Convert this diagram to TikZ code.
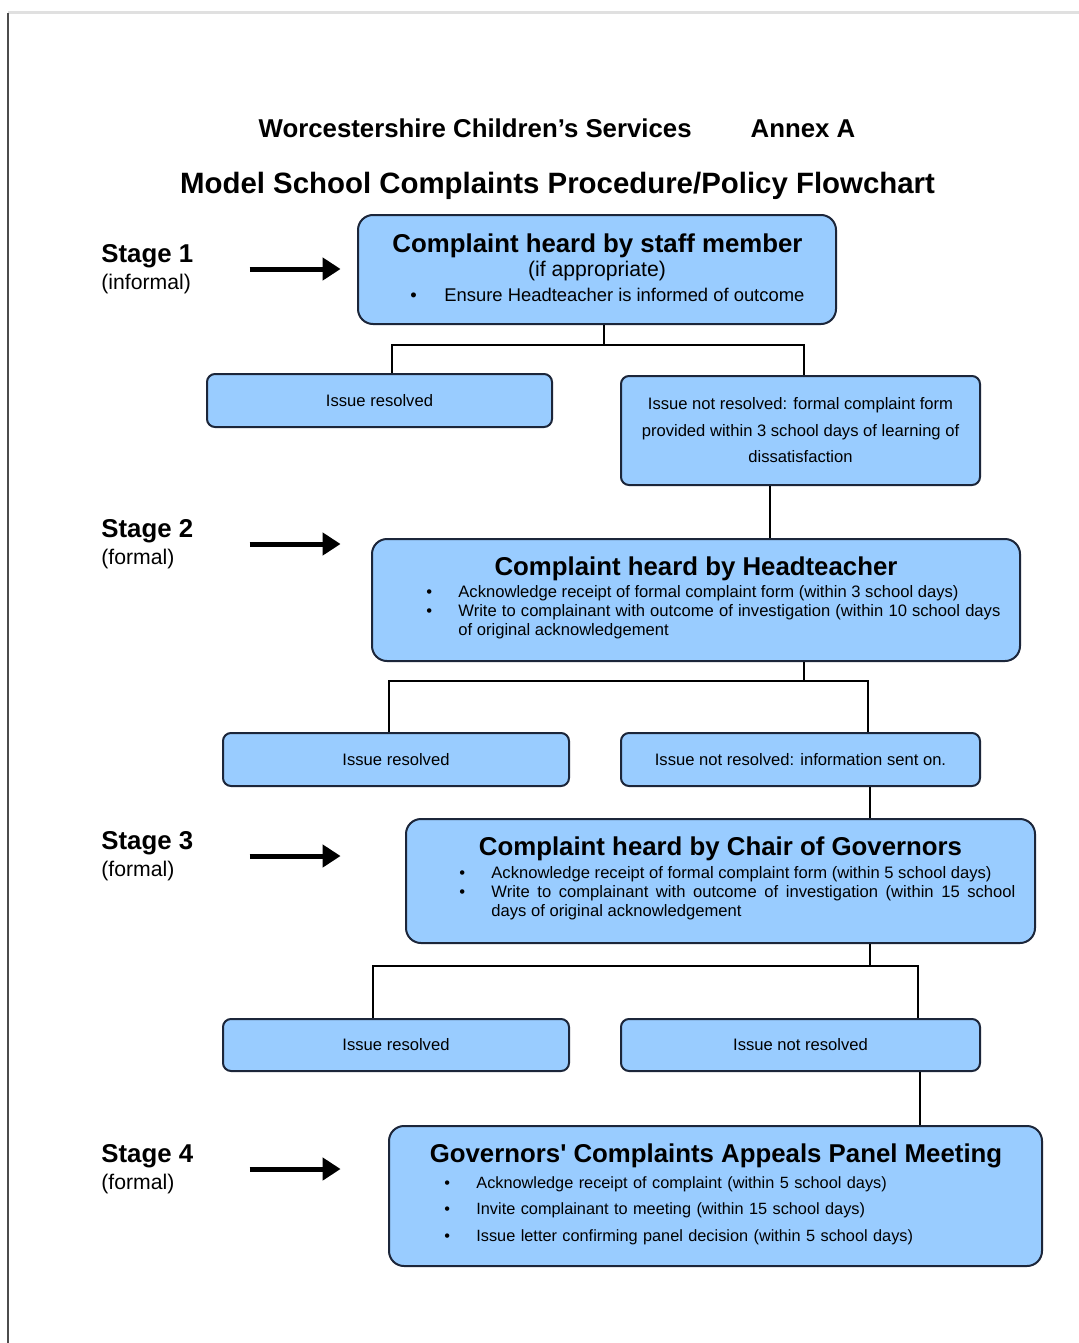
\documentclass[tikz,border=0pt]{standalone}
\usepackage{fontspec}
\setmainfont{Liberation Sans}
\usepackage{tikz}
\usetikzlibrary{arrows.meta}

\definecolor{boxblue}{RGB}{153,204,255}
\definecolor{boxline}{RGB}{28,38,58}

\newcommand\bitem[1]{\noindent\hangindent=16pt\hangafter=1\makebox[16pt][l]{\textbullet}#1\par}
\newcommand\tick{{\addfontfeatures{Ligatures=TeXOff}'}}

\tikzset{
    stagebox/.style={draw=boxline, line width=1pt, fill=boxblue, rounded corners=7.5pt, inner sep=0pt},
    issuebox/.style={stagebox, rounded corners=4pt, minimum width=173pt, minimum height=26.5pt,
        font=\fontsize{8.3pt}{13.25pt}\selectfont, align=center},
    boxtitle/.style={anchor=base, inner sep=0pt, font=\bfseries\fontsize{12.9pt}{15pt}\selectfont},
    bullets/.style={anchor=base west, inner sep=0pt, align=justify, font=\fontsize{8.3pt}{9.5pt}\selectfont},
    stagelabel/.style={anchor=west, inner sep=0pt, align=left, font=\fontsize{10.6pt}{13.5pt}\selectfont},
    link/.style={draw=black, line width=1pt},
    pointer/.style={line width=2.5pt, -{Triangle[length=9pt,width=11pt]}},
}

\begin{document}
\begin{tikzpicture}[x=0.5pt, y=-0.5pt]
    \useasboundingbox (0,0) rectangle (1079,1343);
    \fill[white] (0,0) rectangle (1079,1343);
    \draw[black!12, line width=1.5pt] (8,13) -- (1079,13);
    \draw[black!70, line width=1.2pt] (8,13) -- (8,1343);

    % heading
    \node[anchor=base, inner sep=0pt, font=\bfseries\fontsize{12.9pt}{15pt}\selectfont] (head) at (557,137)
        {Worcestershire Children’s Services\hspace{29.5pt}Annex A};
    \node[anchor=base, inner sep=0pt, font=\bfseries\fontsize{14.7pt}{17pt}\selectfont] (title) at (557.5,193)
        {Model School Complaints Procedure/Policy Flowchart};

    % boxes
    \node[stagebox, minimum width=239pt, minimum height=54.5pt] (s1) at (597,269.5) {};
    \node[issuebox, minimum width=172.5pt] (r1) at (379.5,400.5) {Issue resolved};
    \node[issuebox, minimum width=179.5pt, minimum height=54.5pt] (n1) at (800.5,430.5)
        {Issue not resolved: formal complaint form\\provided within 3 school days of learning of\\dissatisfaction};
    \node[stagebox, minimum width=324pt, minimum height=61pt] (s2) at (696,600) {};
    \node[issuebox] (r2) at (396,759.5) {Issue resolved};
    \node[issuebox, minimum width=179.5pt] (n2) at (800.5,759.5) {Issue not resolved: information sent on.};
    \node[stagebox, minimum width=314.5pt, minimum height=62pt] (s3) at (720.5,881) {};
    \node[issuebox, minimum height=26pt] (r3) at (396,1045) {Issue resolved};
    \node[issuebox, minimum width=179.5pt, minimum height=26pt] (n3) at (800.5,1045) {Issue not resolved};
    \node[stagebox, minimum width=326.5pt, minimum height=70pt] (s4) at (715.5,1196) {};

    % stage 1
    \node[boxtitle] (s1t) at (597.5,252) {Complaint heard by staff member};
    \node[anchor=base, inner sep=0pt, font=\fontsize{10.6pt}{12pt}\selectfont] (s1n) at (597,276) {(if appropriate)};
    \node[anchor=base west, inner sep=0pt, font=\fontsize{9.2pt}{11pt}\selectfont] (s1b) at (410,301)
        {\makebox[17pt][l]{\textbullet}Ensure Headteacher is informed of outcome};

    % stage 2
    \node[boxtitle] (s2t) at (696,575) {Complaint heard by Headteacher};
    \node[bullets, text width=287pt] (s2b) at (426,597) {%
        \bitem{Acknowledge receipt of formal complaint form (within 3 school days)}%
        \bitem{Write to complainant with outcome of investigation (within 10 school days\linebreak of original acknowledgement}};

    % stage 3
    \node[boxtitle] (s3t) at (720.5,855) {Complaint heard by Chair of Governors};
    \node[bullets, text width=278pt] (s3b) at (459,878) {%
        \bitem{Acknowledge receipt of formal complaint form (within 5 school days)}%
        \bitem{Write to complainant with outcome of investigation (within 15 school\linebreak days of original acknowledgement}};

    % stage 4
    \node[boxtitle] (s4t) at (716,1162) {Governors\tick{} Complaints Appeals Panel Meeting};
    \node[bullets, text width=280pt, align=left, font=\fontsize{8.15pt}{13.3pt}\selectfont] (s4b) at (444,1188) {%
        \bitem{Acknowledge receipt of complaint (within 5 school days)}%
        \bitem{Invite complainant to meeting (within 15 school days)}%
        \bitem{Issue letter confirming panel decision (within 5 school days)}};

    % stage labels and pointers
    \node[stagelabel] (st1) at (101,269) {{\bfseries\fontsize{12.9pt}{13.5pt}\selectfont Stage 1}\\(informal)};
    \node[stagelabel] (st2) at (101,544) {{\bfseries\fontsize{12.9pt}{13.5pt}\selectfont Stage 2}\\(formal)};
    \node[stagelabel] (st3) at (101,856) {{\bfseries\fontsize{12.9pt}{13.5pt}\selectfont Stage 3}\\(formal)};
    \node[stagelabel] (st4) at (101,1169) {{\bfseries\fontsize{12.9pt}{13.5pt}\selectfont Stage 4}\\(formal)};
    \foreach \st in {st1,st2,st3,st4}
        \draw[pointer] (\st.east) ++(56,0) -- ++(91,0);

    % connectors
    \coordinate (b1) at (604,345);
    \draw[link] (s1.south -| b1) -- (b1);
    \draw[link] (r1.north -| 392,0) |- (b1) -| (n1.north -| 804,0);
    \draw[link] (n1.south -| 770,0) -- (s2.north -| 770,0);
    \coordinate (b2) at (804,681);
    \draw[link] (s2.south -| b2) -- (b2);
    \draw[link] (r2.north -| 389,0) |- (b2) -| (n2.north -| 868,0);
    \draw[link] (n2.south -| 870,0) -- (s3.north -| 870,0);
    \coordinate (b3) at (870,966);
    \draw[link] (s3.south -| b3) -- (b3);
    \draw[link] (r3.north -| 373,0) |- (b3) -| (n3.north -| 918,0);
    \draw[link] (n3.south -| 920,0) -- (s4.north -| 920,0);
\end{tikzpicture}
\end{document}
